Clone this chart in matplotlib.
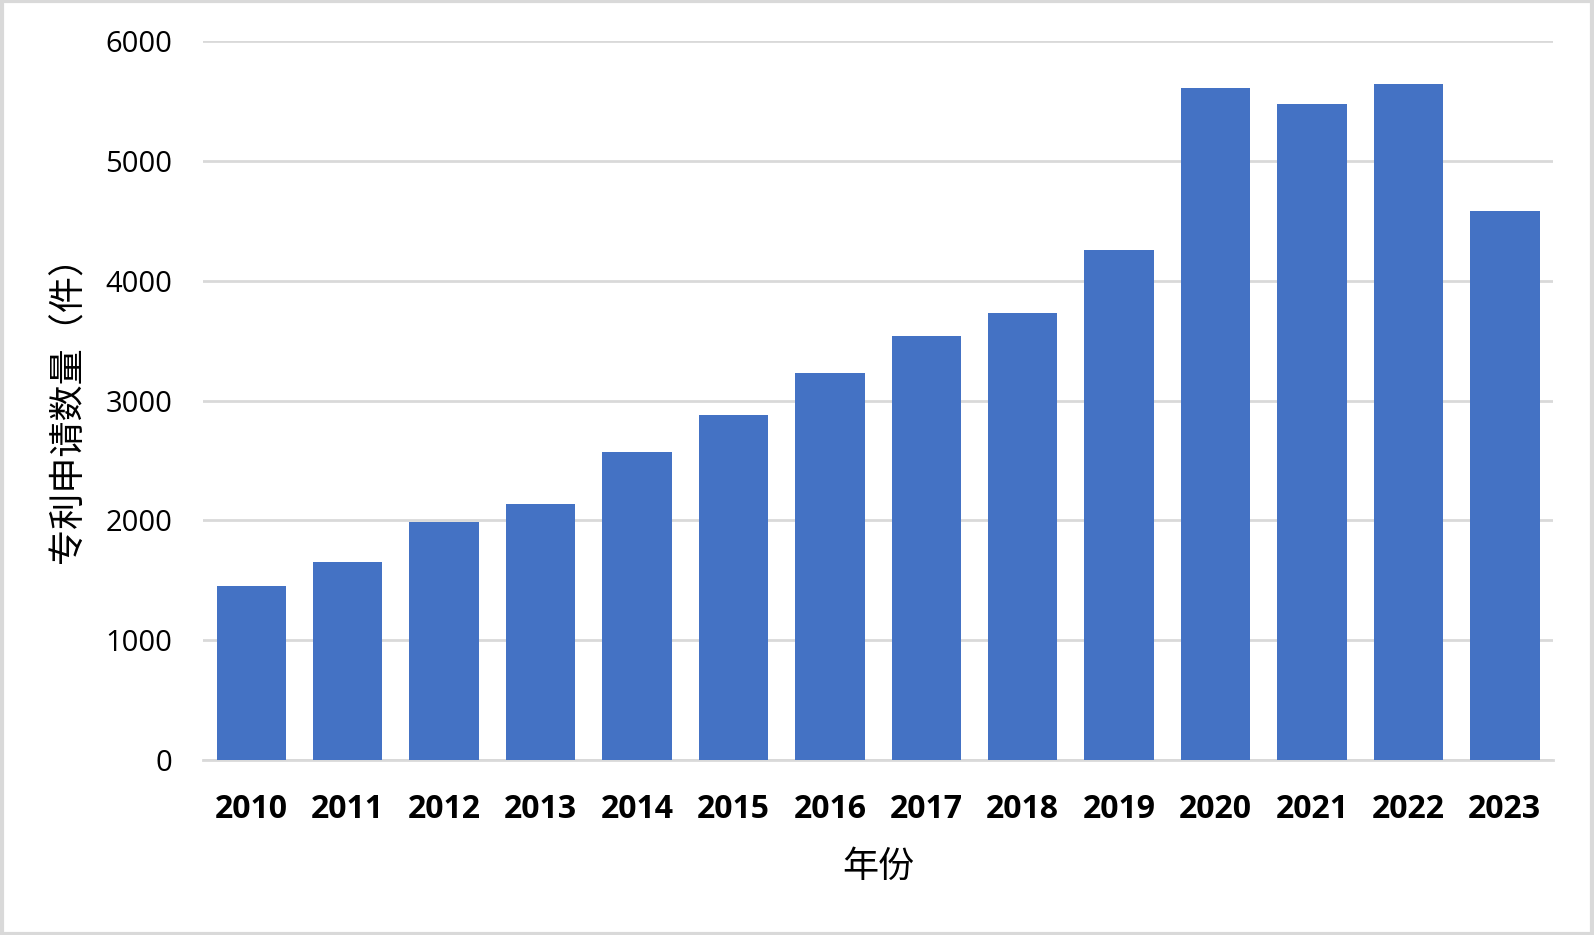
import matplotlib
matplotlib.use("Agg")
import matplotlib.pyplot as plt
import numpy as np

# data
years = ["2010", "2011", "2012", "2013", "2014", "2015", "2016",
         "2017", "2018", "2019", "2020", "2021", "2022", "2023"]
counts = [1452, 1653, 1986, 2139, 2572, 2878, 3226,
          3540, 3727, 4253, 5604, 5473, 5640, 4583]
yticks = [0, 1000, 2000, 3000, 4000, 5000, 6000]

plt.rcParams['font.family'] = ['Open Sans', 'Noto Sans CJK SC', 'DejaVu Sans']
cjk = ['Noto Sans CJK SC', 'DejaVu Sans']

fig = plt.figure(figsize=(15.94, 9.35), dpi=100)
ax = fig.add_axes([0.1274, 0.1872, 0.8469, 0.7689])

x = np.arange(len(years))
ax.bar(x, counts, width=0.72, color='#4472C4', zorder=3)

ax.set_xlim(-0.5, len(years) - 0.5)
ax.set_ylim(0, 6000)
ax.set_yticks(yticks)
ax.set_yticklabels([str(v) for v in yticks], fontsize=21)
ax.set_xticks(x)
ax.set_xticklabels(years, fontsize=23, fontweight='bold')

ax.grid(axis='y', color='#d9d9d9', linewidth=2, zorder=0)
for s in ['top', 'right', 'left']:
    ax.spines[s].set_visible(False)
ax.spines['bottom'].set_color('#d9d9d9')
ax.spines['bottom'].set_linewidth(2)
ax.tick_params(axis='both', length=0)
ax.tick_params(axis='y', pad=22)
ax.tick_params(axis='x', pad=24)

ax.set_ylabel('专利申请数量（件）', fontsize=26, family=cjk, labelpad=14)
ax.set_xlabel('年份', fontsize=26, family=cjk, labelpad=16)

# light grey frame round the whole picture
fig.patches.append(plt.Rectangle((0.001, 0.001), 0.998, 0.998, transform=fig.transFigure,
                                 fill=False, edgecolor='#d9d9d9', linewidth=3))

fig.savefig('out.png', dpi=100)
